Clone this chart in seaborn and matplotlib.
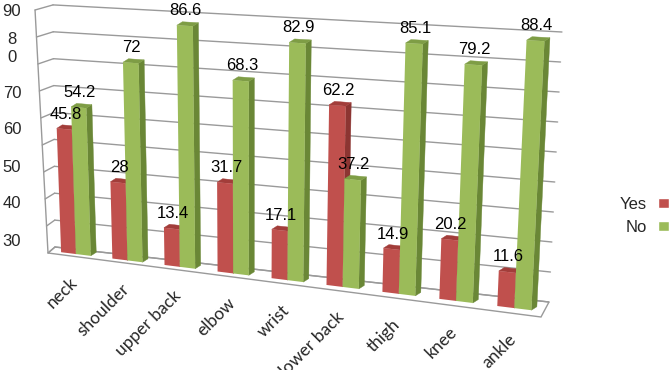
import numpy as np
import pandas as pd
import matplotlib
matplotlib.use("Agg")
import matplotlib.pyplot as plt
import matplotlib.transforms as mtransforms
from matplotlib.patches import Patch, Rectangle
import seaborn as sns

sns.set_theme(style="white")
plt.rcParams["font.family"] = ["Liberation Sans", "DejaVu Sans"]

# data (percent of answers per body part)
categories = ["neck", "shoulder", "upper back", "elbow", "wrist",
              "lower back", "thigh", "knee", "ankle"]
yes_pct = [45.8, 28, 13.4, 31.7, 17.1, 62.2, 14.9, 20.2, 11.6]
no_pct = [54.2, 72, 86.6, 68.3, 82.9, 37.2, 85.1, 79.2, 88.4]
answers = ["Yes", "No"]
grid_levels = [0, 10, 20, 30, 40, 50, 60, 70, 80, 90]
# value axis labels exactly as printed (the "80" is broken in two)
value_labels = ["90", "8", "0", "70", "60", "50", "40", "30"]

# ---- layout (pixels of the 669x370 picture) ----
W_PX, H_PX = 669, 370
value_label_y = [12, 40, 57, 93, 130, 167, 203, 242]
RED, GREEN = "#C0504D", "#9BBB59"
SIDE_COLORS = ["#8C3532", "#6A8736"]
TOP_COLORS = ["#A23D3A", "#7E9D45"]
GRID = "#9A9A9A"

N = len(categories)
PERSPECTIVE = 0.076
# floor corners and "one unit up" vectors, front/back x left/right
FLOOR = {"fl": (48, 253), "fr": (541, 317), "bl": (55, 247), "br": (549, 302)}
UP = {"fl": (-0.144, -2.70), "fr": (0.16, -3.08),
      "bl": (-0.022, -2.69), "br": (0.144, -3.00)}
BAR_W = 0.35            # where the bars stand on the floor (0 front, 1 back)
BAR_DEPTH = (5.5, -3.5)  # screen offset of a bar's back face


def bilerp(corners, g, w):
    fl, fr, bl, br = (np.array(corners[k], float) for k in ("fl", "fr", "bl", "br"))
    g = g[:, None]
    w = w[:, None]
    return (fl * (1 - g) + fr * g) * (1 - w) + (bl * (1 - g) + br * g) * w


def project(x, v, w, d):
    x, v, w, d = (np.ravel(a).astype(float) for a in np.broadcast_arrays(x, v, w, d))
    t = (x + 0.5) / N
    g = t * (1 - PERSPECTIVE) / (1 - PERSPECTIVE * t)
    return bilerp(FLOOR, g, w) + bilerp(UP, g, w) * v[:, None] + np.outer(d, BAR_DEPTH)


class Face(mtransforms.Transform):
    """maps two of (x=category, v=value, w=floor depth, d=bar depth) to pixels"""
    input_dims = output_dims = 2

    def __init__(self, dims, **fixed):
        super().__init__()
        self.dims = dims
        self.coords = {**dict(x=0.0, v=0.0, w=BAR_W, d=0.0), **fixed}

    def transform_non_affine(self, values):
        values = np.asarray(values, float)
        flat = values.reshape(-1, 2)
        c = dict(self.coords)
        c[self.dims[0]] = flat[:, 0]
        c[self.dims[1]] = flat[:, 1]
        out = project(c["x"], c["v"], c["w"], c["d"])
        return out.reshape(-1) if values.ndim == 1 else out


fig = plt.figure(figsize=(W_PX / 100, H_PX / 100), dpi=100)
ax = fig.add_axes([0, 0, 1, 1])


def face(a, b, **fixed):
    return Face((a, b), **fixed) + ax.transData


def shifted(trans, dx, dy):
    return mtransforms.offset_copy(trans, fig=fig, x=dx, y=dy, units="dots")


df = pd.DataFrame({
    "part": np.tile(np.arange(N), 2),
    "answer": np.repeat(answers, N),
    "pct": yes_pct + no_pct,
})

# front faces of the columns
sns.barplot(data=df, x="part", y="pct", hue="answer", hue_order=answers,
    palette=[RED, GREEN], saturation=1, width=0.58, gap=0, orient="x",
    errorbar=None, legend=False, linewidth=0, ax=ax,
    transform=face("x", "v"))

ax.set_xlim(0, W_PX)
ax.set_ylim(H_PX, 0)
ax.set_axis_off()

# walls and floor
for lvl in grid_levels:
    ax.plot([-0.5, N - 0.5], [lvl, lvl], transform=face("x", "v", w=1.0),
        color=GRID, lw=1, zorder=0.5)
    ax.plot([0, 1], [lvl, lvl], transform=face("w", "v", x=-0.5),
        color=GRID, lw=1, zorder=0.5)
ax.plot([0, 0], [0, grid_levels[-1]], transform=face("w", "v", x=-0.5),
    color=GRID, lw=1, zorder=0.5)
ax.add_patch(Rectangle((-0.5, 0), N, 1, transform=face("x", "w", v=0),
    fill=False, ec=GRID, lw=1, zorder=0.5))

# side + top faces give the 3d look, then the labels on top
for k, (cont, vals) in enumerate(zip(ax.containers, [yes_pct, no_pct])):
    z = 1 + 2 * k
    for bar, val in zip(cont, vals):
        x0, bw, h = bar.get_x(), bar.get_width(), bar.get_height()
        bar.set_zorder(z + 0.5)
        ax.add_patch(Rectangle((0, 0), 1, h, transform=face("d", "v", x=x0 + bw),
            fc=SIDE_COLORS[k], ec=SIDE_COLORS[k], lw=0.3, zorder=z))
        ax.add_patch(Rectangle((x0, 0), bw, 1, transform=face("x", "d", v=h),
            fc=TOP_COLORS[k], ec=TOP_COLORS[k], lw=0.3, zorder=z))
        ax.text(x0 + bw / 2, h, f"{val:g}", transform=shifted(face("x", "v"), 1, 15),
            ha="center", va="center", fontsize=12, color="black", zorder=6)

# category labels under the floor
for i, name in enumerate(categories):
    ax.text(i, 0, name, transform=shifted(face("x", "v", w=0.0), -4, -18),
        rotation=45, rotation_mode="anchor", ha="right", va="top",
        fontsize=12.5, family=["Lato", "DejaVu Sans"], zorder=6)

# value axis labels
for lbl, y in zip(value_labels, value_label_y):
    ax.text(12, y, lbl, ha="center", va="center", fontsize=12, zorder=6)

handles = [Patch(facecolor=c) for c in (RED, GREEN)]
fig.legend(handles, answers, loc="center left",
    bbox_to_anchor=(620 / W_PX, 1 - 216 / H_PX), frameon=False,
    markerfirst=False, handlelength=0.65, handleheight=0.55,
    handletextpad=0.65, labelspacing=0.45, borderpad=0, borderaxespad=0,
    fontsize=12)

fig.savefig("out.png", dpi=100, facecolor="white")
